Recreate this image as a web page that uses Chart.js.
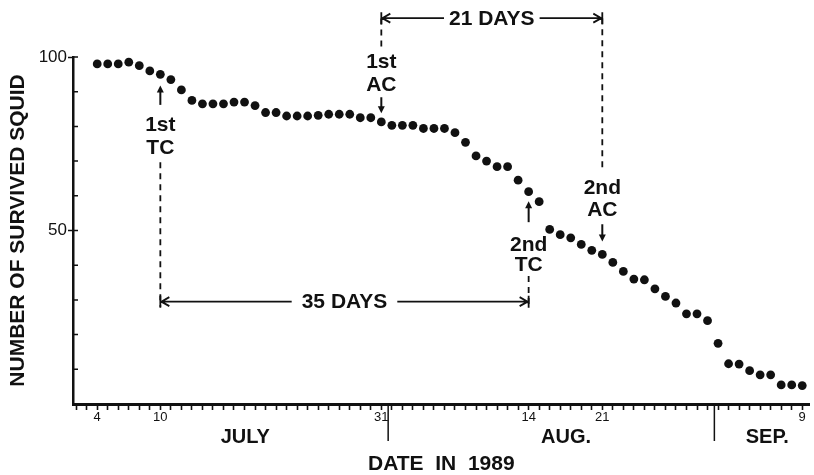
<!DOCTYPE html>
<html>
<head>
<meta charset="utf-8">
<script src="https://cdn.jsdelivr.net/npm/chart.js@4.4.1/dist/chart.umd.min.js"></script>
<style>
  body { margin: 0; background: #ffffff; }
  #wrap { width: 814px; height: 475px; }
</style>
</head>
<body>
<div id="wrap"><canvas id="squidChart" width="814" height="475"></canvas></div>
<script>
// day of year counted from July 1 (July 31 = 31, Aug 14 = 45, Sep 9 = 71)
const days = [];
for (let d = 4; d <= 71; d++) days.push(d);

const survived = [
    98, 98, 98, 98.5, 97.5, 96, 95, 93.5, 90.5, 87.5,
    86.5, 86.5, 86.5, 87, 87, 86, 84, 84, 83, 83,
    83, 83.2, 83.5, 83.5, 83.5, 82.5, 82.5, 81.3, 80.3, 80.3,
    80.3, 79.4, 79.4, 79.4, 78.2, 75.4, 71.5, 70, 68.4, 68.4,
    64.5, 61.2, 58.3, 50.3, 48.8, 47.9, 46, 44.3, 43.1, 40.8,
    38.2, 36, 35.8, 33.2, 31, 29.1, 26, 26, 24, 17.5,
    11.6, 11.5, 9.6, 8.4, 8.4, 5.5, 5.5, 5.3
];

const tickDays = [4, 10, 31, 45, 52, 71];
const tickLabels = ['4', '10', '31', '14', '21', '9'];

const monthNames = ['JULY', 'AUG.', 'SEP.'];
const monthStarts = [32, 63];

const tcDays = [10, 45];   // transfer of culture
const acDays = [31, 52];   // additional culture
const ordinals = ['1st', '2nd'];

const FONT = '"Liberation Sans", Arial, Helvetica, sans-serif';
const INK = '#111111';


function drawArrow(ctx, x, y1, y2) {
    // vertical arrow from y1 to y2, head at y2
    const dir = y2 > y1 ? 1 : -1;
    ctx.beginPath();
    ctx.moveTo(x, y1);
    ctx.lineTo(x, y2 - dir * 4);
    ctx.stroke();
    ctx.beginPath();
    ctx.moveTo(x, y2);
    ctx.lineTo(x - 3.5, y2 - dir * 7);
    ctx.lineTo(x + 3.5, y2 - dir * 7);
    ctx.closePath();
    ctx.fill();
}


function drawDashed(ctx, x, y1, y2) {
    ctx.save();
    ctx.setLineDash([6, 5]);
    ctx.lineWidth = 1.8;
    ctx.beginPath();
    ctx.moveTo(x, y1);
    ctx.lineTo(x, y2);
    ctx.stroke();
    ctx.restore();
}


function drawSpan(ctx, x1, x2, y, text, gap) {
    const w = ctx.measureText(text).width;
    const mid = (x1 + x2) / 2;
    ctx.fillText(text, mid, y + 1);
    ctx.lineWidth = 1.8;
    ctx.beginPath();
    ctx.moveTo(x1, y);
    ctx.lineTo(mid - w / 2 - gap, y);
    ctx.moveTo(mid + w / 2 + gap, y);
    ctx.lineTo(x2, y);
    // arrow heads
    ctx.moveTo(x1 + 9, y - 4.5);
    ctx.lineTo(x1 + 1, y);
    ctx.lineTo(x1 + 9, y + 4.5);
    ctx.moveTo(x2 - 9, y - 4.5);
    ctx.lineTo(x2 - 1, y);
    ctx.lineTo(x2 - 9, y + 4.5);
    ctx.moveTo(x1, y - 6);
    ctx.lineTo(x1, y + 6);
    ctx.moveTo(x2, y - 6);
    ctx.lineTo(x2, y + 6);
    ctx.stroke();
}


const annotationPlugin = {
    id: 'squidNotes',
    afterDraw(chart) {
        const ctx = chart.ctx;
        const xs = chart.scales.x;
        const ys = chart.scales.y;
        const area = chart.chartArea;
        const X = (d) => xs.getPixelForValue(d);
        const Y = (v) => ys.getPixelForValue(v);

        ctx.save();
        ctx.strokeStyle = INK;
        ctx.fillStyle = INK;

        // small inward ticks on the y axis
        ctx.lineWidth = 1.5;
        ctx.beginPath();
        for (const t of ys.ticks) {
            if (t.value === 0) continue;
            ctx.moveTo(area.left, Y(t.value));
            ctx.lineTo(area.left + 5, Y(t.value));
        }
        ctx.stroke();

        // month separators and names
        ctx.lineWidth = 1.5;
        ctx.beginPath();
        for (const m of monthStarts) {
            const x = X(m - 0.35);
            ctx.moveTo(x, area.bottom);
            ctx.lineTo(x, area.bottom + 37);
        }
        ctx.stroke();

        const bounds = [xs.min, monthStarts[0] - 0.35, monthStarts[1] - 0.35, xs.max];
        ctx.font = 'bold 20px ' + FONT;
        ctx.textAlign = 'center';
        ctx.textBaseline = 'middle';
        monthNames.forEach((name, i) => {
            const shift = i === 2 ? 0.5 : 1.4;
            ctx.fillText(name, X((bounds[i] + bounds[i + 1]) / 2 + shift), area.bottom + 33);
        });

        // event labels
        ctx.font = 'bold 21px ' + FONT;
        ctx.lineWidth = 2;

        // 1st TC
        let x = X(tcDays[0]);
        drawArrow(ctx, x, Y(86.2), Y(91.8));
        ctx.fillText(ordinals[0], x, Y(80.4));
        ctx.fillText('TC', x, Y(73.8));
        drawDashed(ctx, x, Y(69.7), Y(28));

        // 2nd TC
        x = X(tcDays[1]);
        drawArrow(ctx, x, Y(52.4), Y(58.4));
        ctx.fillText(ordinals[1], x, Y(45.8));
        ctx.fillText('TC', x, Y(40));
        drawDashed(ctx, x, Y(36.9), Y(28));

        drawSpan(ctx, X(tcDays[0]), X(tcDays[1]), Y(29.5),
            (tcDays[1] - tcDays[0]) + ' DAYS', 10);

        // 1st AC
        ctx.lineWidth = 2;
        x = X(acDays[0]);
        ctx.fillText(ordinals[0], x, Y(98.6));
        ctx.fillText('AC', x, Y(91.9));
        drawArrow(ctx, x, Y(88.4), Y(83.8));
        drawDashed(ctx, x, Y(103), Y(111.2));

        // 2nd AC
        ctx.lineWidth = 2;
        x = X(acDays[1]);
        drawDashed(ctx, x, Y(111.2), Y(67.4));
        ctx.fillText(ordinals[1], x, Y(62.2));
        ctx.fillText('AC', x, Y(55.9));
        drawArrow(ctx, x, Y(51.8), Y(46.8));

        drawSpan(ctx, X(acDays[0]), X(acDays[1]), Y(111.2),
            (acDays[1] - acDays[0]) + ' DAYS', 5);

        ctx.restore();
    }
};


function dayLabel(value) {
    const i = tickDays.indexOf(Math.round(value));
    return i >= 0 ? tickLabels[i] : '';
}


const points = days.map((d, i) => ({ x: d, y: survived[i] }));

new Chart(document.getElementById('squidChart'), {
    type: 'scatter',
    data: {
        datasets: [
            {
                data: points,
                pointRadius: 4.4,
                pointHoverRadius: 4.4,
                pointBackgroundColor: INK,
                pointBorderWidth: 0,
                showLine: false,
                clip: false
            }
        ]
    },
    options: {
        responsive: false,
        animation: false,
        events: [],
        layout: {
            padding: { top: 57, right: 1, bottom: 0, left: 0 }
        },
        plugins: {
            legend: { display: false },
            tooltip: { enabled: false }
        },
        scales: {
            x: {
                type: 'linear',
                min: 1.7,
                max: 71.7,
                afterBuildTicks(scale) {
                    // one tick per day
                    const ticks = [];
                    for (let d = Math.ceil(scale.min); d <= Math.floor(scale.max); d++) {
                        ticks.push({ value: d });
                    }
                    scale.ticks = ticks;
                },
                afterFit(scale) {
                    scale.height = 71;
                },
                border: { display: true, color: INK, width: 3 },
                grid: {
                    drawOnChartArea: false,
                    drawTicks: true,
                    tickLength: 6,
                    tickWidth: 1.6,
                    tickColor: INK
                },
                ticks: {
                    autoSkip: false,
                    maxRotation: 0,
                    padding: 0,
                    color: INK,
                    font: { family: FONT, size: 13 },
                    callback: (v) => dayLabel(v)
                },
                title: {
                    display: true,
                    text: 'DATE  IN  1989',
                    color: INK,
                    font: { family: FONT, size: 21, weight: 'bold', lineHeight: 1 },
                    padding: { top: 0, bottom: 0 }
                }
            },
            y: {
                min: 0,
                max: 100,
                afterFit(scale) {
                    scale.width = 73;
                },
                border: { display: true, color: INK, width: 2.5 },
                grid: {
                    drawOnChartArea: false,
                    drawTicks: true,
                    tickLength: 5,
                    tickWidth: 1.5,
                    tickColor: (c) => (c.tick && c.tick.value % 50 === 0 && c.tick.value > 0 ? INK : 'rgba(0,0,0,0)')
                },
                ticks: {
                    stepSize: 10,
                    padding: 1,
                    color: INK,
                    font: { family: FONT, size: 17 },
                    callback: (v) => (v === 100 || v === 50 ? String(v) : '')
                },
                title: {
                    display: true,
                    text: 'NUMBER OF SURVIVED SQUID',
                    color: INK,
                    font: { family: FONT, size: 21, weight: 'bold', lineHeight: 1 },
                    padding: { top: 8, bottom: 0 }
                }
            }
        }
    },
    plugins: [annotationPlugin]
});
</script>
</body>
</html>
